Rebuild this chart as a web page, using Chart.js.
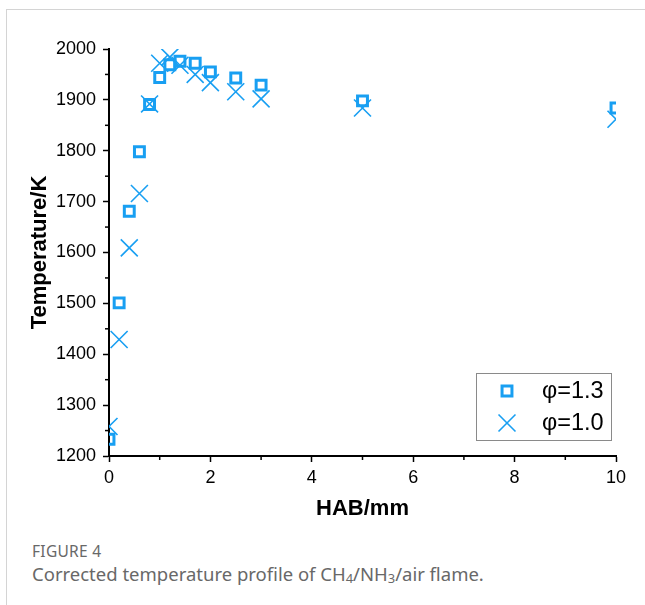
<!DOCTYPE html>
<html>
<head>
<meta charset="utf-8">
<title>Temperature profile</title>
<script src="https://cdn.jsdelivr.net/npm/chart.js"></script>
<style>
  body { margin: 0; background: #fff; }
  #card { position: absolute; left: 6px; top: 9px; width: 700px; height: 700px; border: 1px solid #d4d4d4; }
  #wrap { position: absolute; left: 0; top: 0; width: 645px; height: 540px; }
  .cap { position: absolute; left: 32px; font-family: "Noto Sans"; color: #686868; white-space: nowrap; }
  .cap sub { font-size: 70%; vertical-align: -2px; line-height: 0; }
</style>
</head>
<body>
<div id="card"></div>
<div id="wrap"><canvas id="c" width="645" height="540"></canvas></div>
<div class="cap" style="top:540px;font-size:15.5px;letter-spacing:0.3px;">FIGURE 4</div>
<div class="cap" style="top:561px;font-size:18.5px;">Corrected temperature profile of CH<sub>4</sub>/NH<sub>3</sub>/air flame.</div>
<script>
// HAB (mm) and temperature (K)
const hab13 = [0, 0.2, 0.4, 0.6, 0.8, 1.0, 1.2, 1.4, 1.7, 2.0, 2.5, 3.0, 5.0, 10];
const temp13 = [1233, 1501, 1681, 1798, 1891, 1944, 1969, 1976, 1972, 1955, 1943, 1929, 1898, 1884];
const hab10 = [0, 0.2, 0.4, 0.6, 0.8, 1.0, 1.2, 1.4, 1.7, 2.0, 2.5, 3.0, 5.0, 10];
const temp10 = [1258, 1429, 1609, 1716, 1892, 1972, 1984, 1968, 1950, 1934, 1916, 1902, 1884, 1862];
const seriesNames = ['φ=1.3', 'φ=1.0'];
const xTicks = [0, 2, 4, 6, 8, 10];
const yTicks = [1200, 1300, 1400, 1500, 1600, 1700, 1800, 1900, 2000];

const blue = '#189ff2';
const tickFont = { family: 'Liberation Sans', size: 18 };

function toPoints(xs, ys) {
  return xs.map((x, i) => ({ x: x, y: ys[i] }));
}

// half-step ticks between the labelled ones
const minorTicks = {
  id: 'minorTicks',
  afterDraw(chart) {
    const ctx = chart.ctx;
    const xs = chart.scales.x, ys = chart.scales.y;
    ctx.save();
    ctx.strokeStyle = '#000';
    ctx.lineWidth = 1.5;
    for (let i = 0; i < xTicks.length - 1; i++) {
      const px = xs.getPixelForValue((xTicks[i] + xTicks[i + 1]) / 2);
      ctx.beginPath();
      ctx.moveTo(px, xs.top);
      ctx.lineTo(px, xs.top + 4);
      ctx.stroke();
    }
    for (let i = 0; i < yTicks.length - 1; i++) {
      const py = ys.getPixelForValue((yTicks[i] + yTicks[i + 1]) / 2);
      ctx.beginPath();
      ctx.moveTo(ys.right, py);
      ctx.lineTo(ys.right - 4, py);
      ctx.stroke();
    }
    ctx.restore();
  }
};

// legend box in the lower right of the plot
const boxLegend = {
  id: 'boxLegend',
  afterDraw(chart) {
    const ctx = chart.ctx;
    const a = chart.chartArea;
    const w = 135, h = 67;
    const left = a.right - 140, top = a.bottom - 83;
    ctx.save();
    ctx.strokeStyle = '#8a8a8a';
    ctx.lineWidth = 1;
    ctx.strokeRect(left + 0.5, top + 0.5, w, h);
    chart.data.datasets.forEach((ds, i) => {
      const cy = top + 18 + i * 32;
      ctx.strokeStyle = ds.borderColor;
      ctx.lineWidth = ds.borderWidth;
      ctx.fillStyle = 'rgba(0,0,0,0)';
      Chart.helpers.drawPoint(ctx, {
        pointStyle: ds.pointStyle, radius: ds.pointRadius,
        borderWidth: ds.borderWidth, rotation: 0
      }, left + 31, cy);
      ctx.fillStyle = '#000';
      ctx.font = '23.5px "Liberation Sans"';
      ctx.textBaseline = 'middle';
      ctx.fillText(ds.label, left + 66, cy + 1);
    });
    ctx.restore();
  }
};

new Chart(document.getElementById('c'), {
  type: 'scatter',
  data: {
    datasets: [
      {
        label: seriesNames[0],
        data: toPoints(hab13, temp13),
        pointStyle: 'rect',
        pointRadius: 7,
        pointHoverRadius: 7,
        borderWidth: 3,
        borderColor: blue,
        backgroundColor: 'rgba(0,0,0,0)',
        clip: 0
      },
      {
        label: seriesNames[1],
        data: toPoints(hab10, temp10),
        pointStyle: 'crossRot',
        pointRadius: 12,
        pointHoverRadius: 12,
        borderWidth: 1.6,
        borderColor: blue,
        backgroundColor: 'rgba(0,0,0,0)',
        clip: 0
      }
    ]
  },
  options: {
    responsive: false,
    animation: false,
    layout: { padding: { top: 49, right: 29, left: 0, bottom: 0 } },
    plugins: { legend: { display: false }, tooltip: { enabled: false } },
    scales: {
      x: {
        type: 'linear',
        min: 0, max: 10,
        afterBuildTicks(scale) { scale.ticks = xTicks.map(v => ({ value: v })); },
        afterFit(scale) { scale.height = 84; },
        border: { display: true, color: '#000', width: 2 },
        grid: { drawOnChartArea: false, drawTicks: true, tickLength: 6, tickColor: '#000', tickWidth: 1.5 },
        ticks: { color: '#000', font: tickFont, padding: 5, maxRotation: 0, callback: v => String(v) },
        title: {
          display: true, text: 'HAB/mm', color: '#000',
          font: { family: 'Liberation Sans', size: 22, weight: 'bold' },
          padding: { top: 0, bottom: 18 }
        }
      },
      y: {
        type: 'linear',
        min: 1200, max: 2000,
        afterBuildTicks(scale) { scale.ticks = yTicks.map(v => ({ value: v })); },
        afterFit(scale) { scale.width = 109; },
        border: { display: true, color: '#000', width: 2 },
        grid: { drawOnChartArea: false, drawTicks: true, tickLength: 6, tickColor: '#000', tickWidth: 1.5 },
        ticks: { color: '#000', font: tickFont, padding: 7, callback: v => String(v) },
        title: {
          display: true, text: 'Temperature/K', color: '#000',
          font: { family: 'Liberation Sans', size: 22, weight: 'bold' },
          padding: { top: 27, bottom: 0 }
        }
      }
    }
  },
  plugins: [minorTicks, boxLegend]
});
</script>
</body>
</html>
